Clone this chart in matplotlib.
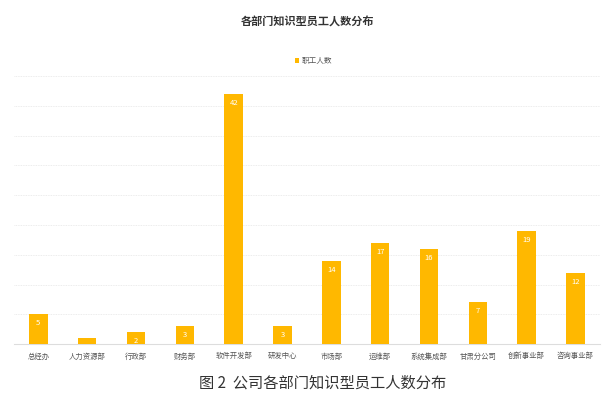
import matplotlib
matplotlib.use('Agg')
import matplotlib.pyplot as plt
from matplotlib.patches import Patch

plt.rcParams['font.family'] = ['Noto Sans CJK SC', 'DejaVu Sans']

# data
departments = ['总经办', '人力资源部', '行政部', '财务部', '软件开发部', '研发中心',
               '市场部', '运维部', '系统集成部', '甘肃分公司', '创新事业部', '咨询事业部']
staff_counts = [5, 1, 2, 3, 42, 3, 14, 17, 16, 7, 19, 12]
y_ticks = [0, 5, 10, 15, 20, 25, 30, 35, 40, 45]

chart_title = '各部门知识型员工人数分布'
legend_label = '职工人数'
caption = '图 2  公司各部门知识型员工人数分布'

bar_color = '#FFB800'


def main():
    fig = plt.figure(figsize=(6.06, 3.96), dpi=100)
    ax = fig.add_axes([0.023, 0.131, 0.967, 0.677])

    x = list(range(len(departments)))
    bars = ax.bar(x, staff_counts, width=0.38, color=bar_color, zorder=3)

    # value labels inside the top of each bar
    for rect, val in zip(bars, staff_counts):
        if val >= 2:
            ax.annotate(str(val), (rect.get_x() + rect.get_width() / 2, val),
                        xytext=(0, -6.5), textcoords='offset points',
                        ha='center', va='center', color='white', fontsize=5.5)

    ax.set_xlim(-0.5, len(departments) - 0.5)
    ax.set_ylim(0, 45)
    ax.set_yticks(y_ticks)
    ax.set_yticklabels([])
    ax.tick_params(axis='y', length=0)
    ax.tick_params(axis='x', length=0, pad=6, labelsize=5.3, labelcolor='#555555')
    ax.set_xticks(x)
    ax.set_xticklabels(departments)
    ax.grid(axis='y', color='#e6e6e6', linestyle=(0, (1, 1)), linewidth=0.6, zorder=0)

    for side in ['top', 'right', 'left']:
        ax.spines[side].set_visible(False)
    ax.spines['bottom'].set_color('#dddddd')
    ax.spines['bottom'].set_linewidth(0.8)

    fig.text(0.507, 0.944, chart_title, ha='center', va='center',
             fontsize=8, fontweight='bold', color='#333333')

    handle = Patch(facecolor=bar_color, edgecolor='none')
    fig.legend([handle], [legend_label], loc='center', bbox_to_anchor=(0.517, 0.846),
               frameon=False, fontsize=5.5, handlelength=0.6, handleheight=0.6,
               handletextpad=0.3, labelcolor='#555555')

    fig.text(0.533, 0.033, caption, ha='center', va='center',
             fontsize=11, color='#333333')

    fig.savefig('out.png', dpi=100)


if __name__ == '__main__':
    main()
